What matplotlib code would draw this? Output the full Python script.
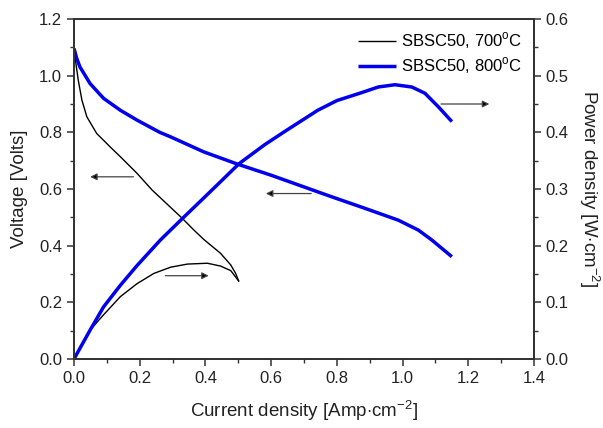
import matplotlib
matplotlib.use("Agg")
import matplotlib.pyplot as plt
from matplotlib.ticker import MultipleLocator

plt.rcParams['font.family'] = ['Liberation Sans', 'DejaVu Sans']
plt.rcParams['mathtext.fontset'] = 'custom'
plt.rcParams['mathtext.rm'] = 'Liberation Sans'

# 700 C voltage
j700_v = [0.0, 0.003, 0.013, 0.024, 0.039, 0.069, 0.115, 0.141, 0.192, 0.238, 0.33, 0.365,
          0.395, 0.446, 0.477, 0.492, 0.502]
v700 = [1.10, 1.066, 0.984, 0.914, 0.855, 0.796, 0.743, 0.714, 0.655, 0.596, 0.496, 0.455,
        0.422, 0.373, 0.332, 0.302, 0.273]
# 700 C power
j700_p = [0.0, 0.049, 0.09, 0.141, 0.192, 0.243, 0.294, 0.345, 0.406, 0.446, 0.477, 0.502]
p700 = [0.0, 0.051, 0.078, 0.110, 0.133, 0.151, 0.162, 0.1675, 0.169, 0.164, 0.156, 0.137]
# 800 C voltage
j800_v = [0.0, 0.008, 0.018, 0.049, 0.09, 0.141, 0.192, 0.261, 0.294, 0.395, 0.497, 0.599,
          0.783, 0.885, 0.987, 1.048, 1.089, 1.15]
v800 = [1.096, 1.062, 1.031, 0.972, 0.92, 0.878, 0.843, 0.80, 0.784, 0.731, 0.688, 0.649,
        0.573, 0.532, 0.49, 0.455, 0.42, 0.361]
# 800 C power
j800_p = [0.0, 0.049, 0.09, 0.141, 0.192, 0.263, 0.33, 0.40, 0.503, 0.58, 0.64, 0.742, 0.80,
          0.875, 0.926, 0.977, 1.028, 1.068, 1.109, 1.15]
p800 = [0.0, 0.051, 0.092, 0.130, 0.165, 0.21, 0.248, 0.287, 0.345, 0.378, 0.401, 0.439, 0.456,
        0.47, 0.48, 0.484, 0.48, 0.469, 0.445, 0.419]

labels = ['SBSC50, 700$^{\\rm o}$C', 'SBSC50, 800$^{\\rm o}$C']

fig = plt.figure(figsize=(6.03, 4.28), dpi=100)
ax = fig.add_axes([74/603, 69/428, 460/603, 340/428])
ax2 = ax.twinx()

lkw = dict(solid_joinstyle='round', solid_capstyle='butt')
l1, = ax.plot(j700_v, v700, color='black', lw=1.0, **lkw)
l2, = ax.plot(j800_v, v800, color='#0000ee', lw=2.5, **lkw)
ax2.plot(j700_p, p700, color='black', lw=1.0, **lkw)
ax2.plot(j800_p, p800, color='#0000ee', lw=2.5, **lkw)

ax.set_xlim(0, 1.4)
ax.set_ylim(0, 1.2)
ax2.set_ylim(0, 0.6)

ax.xaxis.set_major_locator(MultipleLocator(0.2))
ax.xaxis.set_minor_locator(MultipleLocator(0.1))
ax.yaxis.set_major_locator(MultipleLocator(0.2))
ax.yaxis.set_minor_locator(MultipleLocator(0.1))
ax2.yaxis.set_major_locator(MultipleLocator(0.1))
ax2.yaxis.set_minor_locator(MultipleLocator(0.05))

ax.xaxis.set_major_formatter(plt.FormatStrFormatter('%.1f'))
ax.yaxis.set_major_formatter(plt.FormatStrFormatter('%.1f'))
ax2.yaxis.set_major_formatter(plt.FormatStrFormatter('%.1f'))

for a in (ax, ax2):
    for s in a.spines.values():
        s.set_linewidth(1.3)
        s.set_color('#333333')
    a.tick_params(which='major', direction='out', length=5, width=1.1, color='#333333',
                  labelsize=12, labelcolor='#222222')
    a.tick_params(which='minor', direction='out', length=3, width=1.0, color='#333333')
ax.tick_params(axis='x', which='both', top=False)
ax.tick_params(axis='y', which='both', right=False)

ax.set_xlabel('Current density [Amp$\\cdot$cm$^{-2}$]', fontsize=13.5, labelpad=9, color='#222222')
ax.set_ylabel('Voltage [Volts]', fontsize=13.5, labelpad=8, color='#222222')
ax2.set_ylabel('Power density [W$\\cdot$cm$^{-2}$]', fontsize=13.5, rotation=270, labelpad=24,
               color='#222222')

arrow_kw = dict(arrowstyle='-|>', color='#444444', lw=0.9, mutation_scale=10,
                shrinkA=0, shrinkB=0, fc='black')
ax.annotate('', xy=(0.049, 0.643), xytext=(0.181, 0.643), arrowprops=arrow_kw)
ax.annotate('', xy=(0.584, 0.584), xytext=(0.722, 0.584), arrowprops=arrow_kw)
ax.annotate('', xy=(0.41, 0.294), xytext=(0.278, 0.294), arrowprops=arrow_kw)
ax.annotate('', xy=(1.264, 0.90), xytext=(1.117, 0.90), arrowprops=arrow_kw)

ax.legend([l1, l2], labels, loc='upper right', frameon=False, fontsize=12,
          handlelength=2.3, handletextpad=0.3, borderaxespad=0.3, labelspacing=0.25)

fig.savefig('out.png', dpi=100)
